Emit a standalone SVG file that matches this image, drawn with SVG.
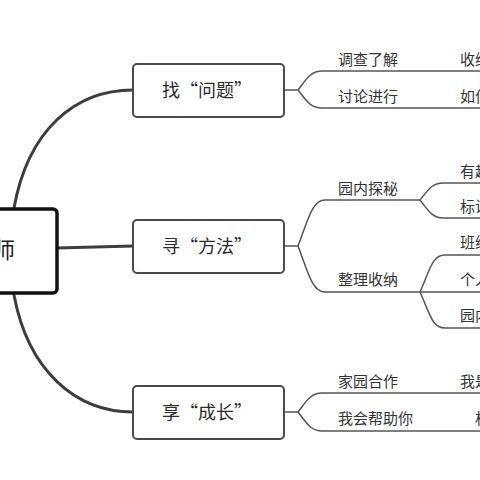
<svg xmlns="http://www.w3.org/2000/svg" width="480" height="480" viewBox="0 0 480 480">
<style>
.bg{fill:#ffffff}
.main{fill:none;stroke:#3d3d3d;stroke-width:3;stroke-linecap:round}
.sub{fill:none;stroke:#555;stroke-width:1.5}
.box{fill:#fff;stroke:#4a4a4a;stroke-width:2}
.root{fill:#fff;stroke:#111;stroke-width:3.5}
.t1{font-family:"Noto Sans CJK SC","Noto Sans",sans-serif;font-size:18px;fill:#2b2b2b;text-anchor:middle}
.t2{font-family:"Noto Sans CJK SC","Noto Sans",sans-serif;font-size:15px;fill:#333}
.t0{font-family:"Noto Sans CJK SC","Noto Sans",sans-serif;font-size:22px;fill:#222;text-anchor:end}
</style>
<rect class="bg" width="480" height="480"/>
<g id="connectors">
<path class="main" d="M14,208 C28,130 75,90 133,90"/>
<path class="main" d="M57,248 L133,246"/>
<path class="main" d="M14,295 C28,370 75,412 133,412"/>
<path class="sub" d="M284,90 L298,90 C306,80 310,71 322,71 L480,71"/>
<path class="sub" d="M298,90 C306,100 310,108 322,108 L480,108"/>
<path class="sub" d="M284,246 L298,246 C308,220 312,200 325,200 L420,200 C428,190 432,183 443,183 L480,183"/>
<path class="sub" d="M420,200 C428,210 432,218 443,218 L480,218"/>
<path class="sub" d="M298,246 C308,272 312,292 325,292 L480,292"/>
<path class="sub" d="M420,292 C430,270 432,255 445,255 L480,255"/>
<path class="sub" d="M420,292 C430,314 432,328 445,328 L480,328"/>
<path class="sub" d="M284,412 L298,412 C306,402 310,393 322,393 L480,393"/>
<path class="sub" d="M298,412 C306,422 310,431 322,431 L480,431"/>
</g>
<g id="root">
<rect class="root" x="-12" y="209" width="69" height="84" rx="4"/>
<text class="t0" x="15" y="258">师</text>
</g>
<g id="n1">
<rect class="box" x="133" y="64" width="151" height="53" rx="4"/>
<text class="t1" x="207" y="97">找“问题”</text>
</g>
<g id="n2">
<rect class="box" x="133" y="220" width="151" height="53" rx="4"/>
<text class="t1" x="207" y="253">寻“方法”</text>
</g>
<g id="n3">
<rect class="box" x="133" y="386" width="151" height="53" rx="4"/>
<text class="t1" x="207" y="419">享“成长”</text>
</g>
<g id="n1a"><text class="t2" x="338" y="65">调查了解</text></g>
<g id="n1b"><text class="t2" x="338" y="102">讨论进行</text></g>
<g id="n1a1"><text class="t2" x="460" y="65">收纳</text></g>
<g id="n1b1"><text class="t2" x="460" y="102">如何</text></g>
<g id="n2a"><text class="t2" x="338" y="194">园内探秘</text></g>
<g id="n2a1"><text class="t2" x="460" y="177">有趣</text></g>
<g id="n2a2"><text class="t2" x="460" y="212">标识</text></g>
<g id="n2b"><text class="t2" x="338" y="285">整理收纳</text></g>
<g id="n2b1"><text class="t2" x="460" y="248">班级</text></g>
<g id="n2b2"><text class="t2" x="460" y="285">个人</text></g>
<g id="n2b3"><text class="t2" x="460" y="321">园内</text></g>
<g id="n3a"><text class="t2" x="338" y="387">家园合作</text></g>
<g id="n3b"><text class="t2" x="338" y="424">我会帮助你</text></g>
<g id="n3a1"><text class="t2" x="460" y="387">我是</text></g>
<g id="n3b1"><text class="t2" x="475" y="424">相</text></g>
</svg>
